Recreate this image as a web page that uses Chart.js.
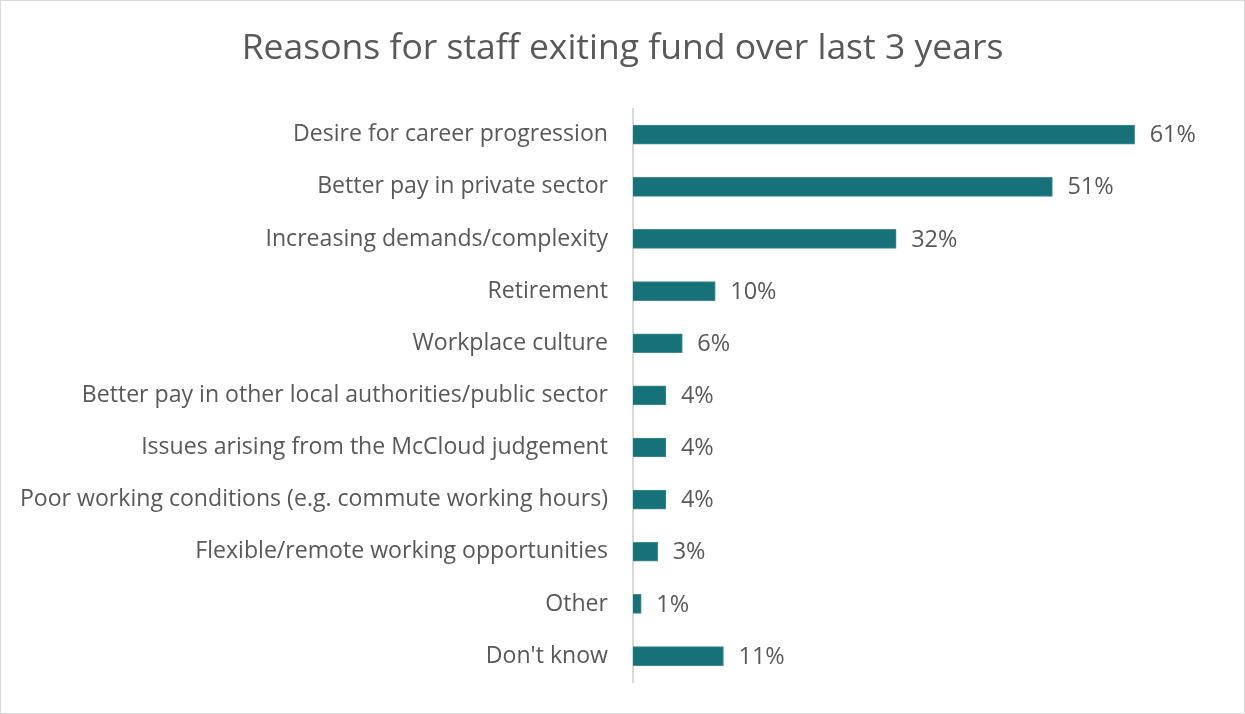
<!DOCTYPE html>
<html>
<head>
<meta charset="utf-8">
<script src="https://cdn.jsdelivr.net/npm/chart.js@4"></script>
<style>
  html, body { margin: 0; padding: 0; background: #fff; }
  #wrap { width: 1245px; height: 714px; box-sizing: border-box; border: 1px solid #d9d9d9; position: relative; }
  canvas { display: block; }
</style>
</head>
<body>
<div id="wrap"><canvas id="chart" width="1243" height="712"></canvas></div>
<script>
const chartTitle = 'Reasons for staff exiting fund over last 3 years';
const reasons = [
  'Desire for career progression',
  'Better pay in private sector',
  'Increasing demands/complexity',
  'Retirement',
  'Workplace culture',
  'Better pay in other local authorities/public sector',
  'Issues arising from the McCloud judgement',
  'Poor working conditions (e.g. commute working hours)',
  'Flexible/remote working opportunities',
  'Other',
  "Don't know"
];
const shares = [61, 51, 32, 10, 6, 4, 4, 4, 3, 1, 11];

const FONT = '"Open Sans", "DejaVu Sans", sans-serif';
const TEXT = '#595959';

// Writes each bar's percentage just past its end
const valueLabels = {
  id: 'valueLabels',
  afterDatasetsDraw(chart) {
    const ctx = chart.ctx;
    const meta = chart.getDatasetMeta(0);
    ctx.save();
    ctx.font = '23.5px ' + FONT;
    ctx.fillStyle = TEXT;
    ctx.textAlign = 'left';
    ctx.textBaseline = 'middle';
    meta.data.forEach((bar, i) => {
      ctx.fillText(shares[i] + '%', bar.x + 15, bar.y + 1);
    });
    ctx.restore();
  }
};

new Chart(document.getElementById('chart'), {
  type: 'bar',
  data: {
    labels: reasons,
    datasets: [{
      data: shares,
      backgroundColor: '#177179',
      borderColor: '#3f8d93',
      borderWidth: 1,
      borderSkipped: 'left',
      barThickness: 19
    }]
  },
  options: {
    indexAxis: 'y',
    responsive: false,
    animation: false,
    layout: { padding: { top: 0, bottom: 17, left: 0, right: 0 } },
    plugins: {
      legend: { display: false },
      tooltip: { enabled: false },
      title: {
        display: true,
        text: chartTitle,
        color: TEXT,
        font: { family: FONT, size: 35.5, weight: 'normal' },
        padding: { top: 27, bottom: 38 }
      }
    },
    scales: {
      x: { display: false, min: 0, max: 74.3 },
      y: {
        grid: { display: false },
        border: { display: true, color: '#d9d9d9', width: 2 },
        ticks: { color: TEXT, font: { family: FONT, size: 23.1 }, padding: 17 },
        afterFit(scale) { scale.width = 632; }
      }
    }
  },
  plugins: [valueLabels]
});
</script>
</body>
</html>
